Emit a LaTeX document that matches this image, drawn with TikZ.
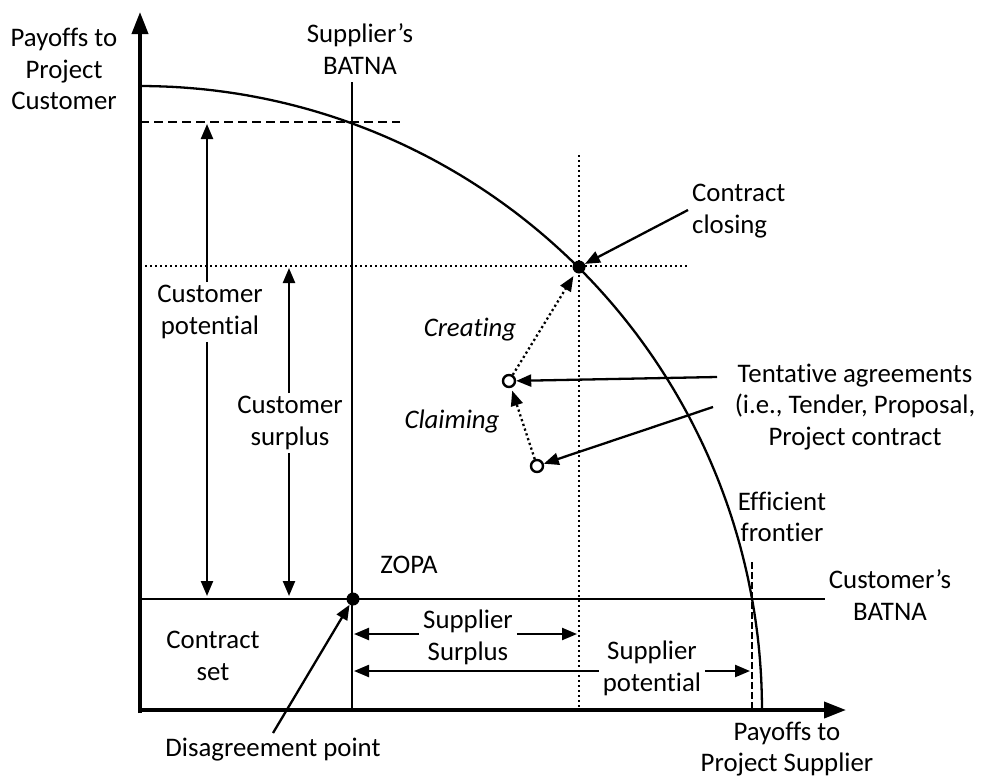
\documentclass[tikz,border=0pt]{standalone}
\usepackage{fontspec}
\setmainfont{Carlito}[Ligatures={NoCommon,NoContextual}]
\usetikzlibrary{arrows.meta}
\begin{document}
\begin{tikzpicture}[x=1pt,y=-1pt,
  lbl/.style={align=center, font=\fontsize{26.8}{31.7}\selectfont, inner sep=0pt, text=black},
  lblit/.style={lbl, font=\fontsize{26.8}{31.7}\selectfont\itshape},
  solidline/.style={line width=2.3pt},
  axisline/.style={line width=3.8pt, -{Triangle[length=22pt,width=16pt]}},
  arr/.style={line width=2.3pt, -{Triangle[length=15pt,width=12pt]}},
  dotline/.style={line width=2.3pt, dash pattern=on 2.2pt off 2.8pt},
  dashline/.style={line width=2.3pt, dash pattern=on 9pt off 5pt},
  dotarr/.style={line width=2.3pt, dash pattern=on 2.2pt off 2.8pt, -{Triangle[length=15pt,width=12pt]}},
  fdot/.style={fill=black, circle, inner sep=0pt, minimum size=13pt},
  odot/.style={draw=black, fill=white, line width=2.4pt, circle, inner sep=0pt, minimum size=12pt}]
\useasboundingbox (0,0) rectangle (981,779);
% coordinates
\coordinate (O) at (140,710);
\coordinate (ytop) at (140,12);
\coordinate (xend) at (846,710);
\coordinate (sbTop) at (352,82);
\coordinate (sbBot) at (352,710);
\coordinate (dashL) at (140,122);
\coordinate (dashR) at (400,122);
\coordinate (dotL) at (140,266);
\coordinate (dotR) at (688,266);
\coordinate (dotT) at (579,155);
\coordinate (dotB) at (579,710);
\coordinate (cbL) at (140,599);
\coordinate (cbR) at (825,599);
\coordinate (efT) at (752,562);
\coordinate (efB) at (752,710);
% frontier
\draw[solidline] plot[domain=90:0, samples=120] ({140+622*cos(\x)},{710-624*sin(\x)});
% reference lines
\draw[solidline] (sbTop) -- (sbBot);
\draw[dashline] (dashL) -- (dashR);
\draw[dotline] (dotL) -- (dotR);
\draw[dotline] (dotT) -- (dotB);
\draw[solidline] (cbL) -- (cbR);
\draw[line width=2.3pt, dash pattern=on 7pt off 3pt] (efT) -- (efB);
% axes
\draw[axisline] (140,713) -- (ytop);
\draw[axisline] (138,710) -- (xend);
% points
\node[fdot] (zopa) at (353,599) {};
\node[fdot] (close) at (579,267) {};
\node[odot] (t1) at (509,381) {};
\node[odot] (t2) at (537,466) {};
% labels
\node[lbl] (pc) at (64,69) {Payoffs to\\Project\\Customer};
\node[lbl] (sbat) at (360,49) {Supplier’s\\BATNA};
\node[lbl, align=left, anchor=west] (cc) at (692,211) {Contract\\closing};
\node[lbl, inner sep=3pt] (cpot) at (210,312) {Customer\\potential};
\node[lbl, inner sep=3pt] (csur) at (290,423) {Customer\\surplus};
\node[lblit] (creat) at (470,330) {Creating};
\node[lblit] (claim) at (452,421) {Claiming};
\node[lbl] (tent) at (855,407) {Tentative agreements\\(i.e., Tender, Proposal,\\Project contract};
\node[lbl] (eff) at (782,517) {Efficient\\frontier};
\node[lbl] (cbat) at (890,595) {Customer’s\\BATNA};
\node[lbl] (zlab) at (409,565) {ZOPA};
\node[lbl] (cset) at (213,656) {Contract\\set};
\node[lbl, inner sep=4pt] (ssur) at (468,637) {Supplier\\Surplus};
\node[lbl, inner sep=4pt] (spot) at (652,668) {Supplier\\potential};
\node[lbl] (dis) at (273,750) {Disagreement point};
\node[lbl] (ps) at (787,749) {Payoffs to\\Project Supplier};
% measurement arrows
\coordinate (cpT) at (207,124);
\coordinate (cpB) at (207,596);
\draw[arr] (cpot.north -| cpT) -- (cpT);
\draw[arr] (cpot.south -| cpB) -- (cpB);
\coordinate (csT) at (289,268);
\coordinate (csB) at (289,596);
\draw[arr] (csur.north -| csT) -- (csT);
\draw[arr] (csur.south -| csB) -- (csB);
\coordinate (ssL) at (354,634);
\coordinate (ssR) at (577,634);
\draw[arr] (ssur.west |- ssL) -- (ssL);
\draw[arr] (ssur.east |- ssR) -- (ssR);
\coordinate (spL) at (354,671);
\coordinate (spR) at (750,671);
\draw[arr] (spot.west |- spL) -- (spL);
\draw[arr] (spot.east |- spR) -- (spR);
% pointer arrows
\coordinate (ccS) at (688,210);
\draw[arr] (ccS) -- (close);
\coordinate (tS1) at (717,377);
\draw[arr] (tS1) -- (t1);
\coordinate (tS2) at (713,407);
\draw[arr] (tS2) -- (t2);
\coordinate (dS) at (273,733);
\draw[arr] (dS) -- (zopa);
% creating / claiming
\draw[dotarr, shorten >=4pt] (t1) -- (close);
\draw[dotarr, shorten >=3pt] (t2) -- (t1);
\end{tikzpicture}
\end{document}
